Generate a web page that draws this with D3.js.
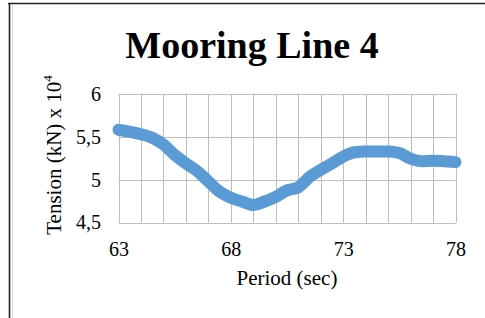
<!DOCTYPE html>
<html>
<head>
<meta charset="utf-8">
<script src="https://cdn.jsdelivr.net/npm/d3@7"></script>
<style>
  body { margin: 0; background: #fff; }
  text { font-family: "Liberation Serif", "Times New Roman", serif; fill: #000; }
</style>
</head>
<body>
<svg id="chart" width="485" height="318"></svg>
<script>
// period (sec) and tension (kN x 10^4)
var periods  = [63, 64, 64.5, 65, 65.5, 66, 66.5, 67, 67.5, 68, 68.5, 69, 69.5, 70, 70.5, 71, 71.5, 72, 72.5, 73, 73.5, 74, 74.5, 75, 75.5, 76, 76.5, 77, 77.5, 78];
var tensions = [5.583, 5.53, 5.49, 5.41, 5.29, 5.19, 5.10, 4.98, 4.86, 4.79, 4.745, 4.705, 4.745, 4.80, 4.875, 4.91, 5.03, 5.115, 5.19, 5.27, 5.32, 5.33, 5.33, 5.33, 5.31, 5.245, 5.215, 5.22, 5.215, 5.205];
var xTicks = [63, 68, 73, 78];
var yTicks = [4.5, 5, 5.5, 6];
var xGrid = d3.range(63, 79, 1);

var svg = d3.select('#chart');
var plotL = 118.5, plotR = 455.5, plotT = 94, plotB = 222.5;

var x = d3.scaleLinear().domain([63, 78]).range([plotL, plotR]);
var y = d3.scaleLinear().domain([4.5, 6]).range([plotB, plotT]);

// outer frame (only top and left edges show)
svg.append('line').attr('x1', 8).attr('x2', 485).attr('y1', 3.5).attr('y2', 3.5)
  .attr('stroke', '#222').attr('stroke-width', 1.6);
svg.append('line').attr('x1', 9.5).attr('x2', 9.5).attr('y1', 3).attr('y2', 318)
  .attr('stroke', '#222').attr('stroke-width', 1.6);
svg.append('line').attr('x1', 12.5).attr('x2', 12.5).attr('y1', 5).attr('y2', 318)
  .attr('stroke', '#ddd').attr('stroke-width', 1);

// title
svg.append('text').attr('x', 252).attr('y', 57.5).attr('text-anchor', 'middle')
  .style('font-size', '38px').style('font-weight', 'bold').text('Mooring Line 4');

// grid
var grid = svg.append('g').attr('stroke', '#bdbdbd').attr('stroke-width', 1);
grid.selectAll('.v').data(xGrid).enter().append('line')
  .attr('x1', d => Math.round(x(d)) + 0.5).attr('x2', d => Math.round(x(d)) + 0.5)
  .attr('y1', plotT).attr('y2', plotB);
grid.selectAll('.h').data(yTicks).enter().append('line')
  .attr('x1', plotL).attr('x2', plotR)
  .attr('y1', d => Math.round(y(d)) + 0.5).attr('y2', d => Math.round(y(d)) + 0.5);

// axes
var fmt = function(d) { return String(d).replace('.', ','); };
var yAxis = svg.append('g').attr('transform', `translate(${plotL},0)`)
  .call(d3.axisLeft(y).tickValues(yTicks).tickFormat(fmt).tickSize(0).tickPadding(17.5));
var xAxis = svg.append('g').attr('transform', `translate(0,${plotB})`)
  .call(d3.axisBottom(x).tickValues(xTicks).tickFormat(d3.format('d')).tickSize(0).tickPadding(19));
[yAxis, xAxis].forEach(function(a) {
  a.select('.domain').remove();
  a.selectAll('text').style('font-size', '20px').style('font-family', '"Liberation Serif", serif').attr('fill', '#000');
});

// axis titles
svg.append('text').attr('x', 287).attr('y', 285).attr('text-anchor', 'middle')
  .style('font-size', '21px').text('Period (sec)');
var yt = svg.append('text').attr('transform', 'translate(61,155) rotate(-90)')
  .attr('text-anchor', 'middle').style('font-size', '21px');
yt.append('tspan').text('Tension (kN) x 10');
yt.append('tspan').attr('dy', -9).style('font-size', '13px').text('4');

// series
var line = d3.line().x((d, i) => x(periods[i])).y(d => y(d)).curve(d3.curveMonotoneX);
svg.append('path').datum(tensions)
  .attr('d', line)
  .attr('fill', 'none')
  .attr('stroke', '#5b9bd5')
  .attr('stroke-width', 12)
  .attr('stroke-linecap', 'round')
  .attr('stroke-linejoin', 'round');
</script>
</body>
</html>
